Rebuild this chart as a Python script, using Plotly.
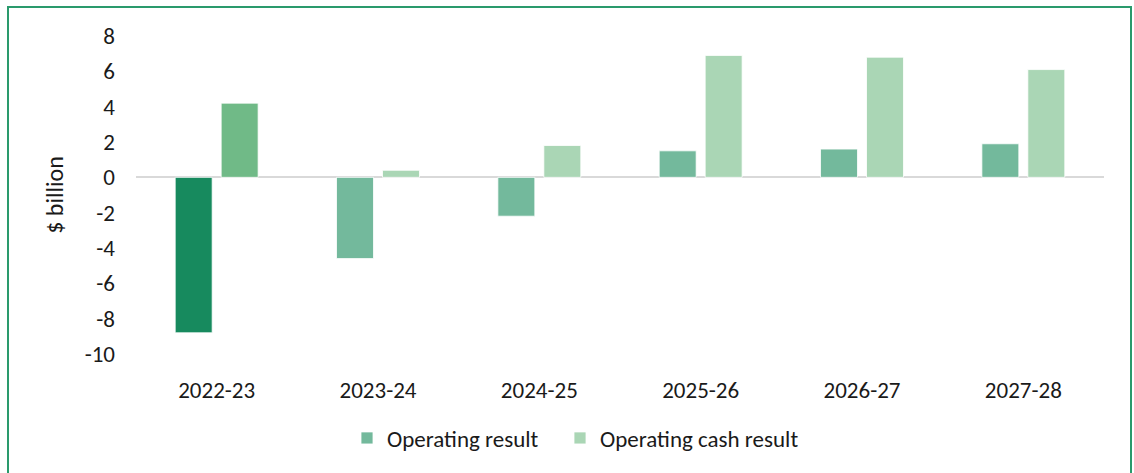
import plotly.graph_objects as go

years = ["2022-23", "2023-24", "2024-25", "2025-26", "2026-27", "2027-28"]
operating_result = [-8.8, -4.6, -2.2, 1.5, 1.6, 1.9]
operating_cash_result = [4.2, 0.4, 1.8, 6.9, 6.8, 6.1]
y_ticks = [-10, -8, -6, -4, -2, 0, 2, 4, 6, 8]
y_tick_labels = ["-10", "-8", "-6", "-4", "-2", "0", "2", "4", "6", "8"]

op_actual_color = "#178A5E"
op_forecast_color = "#73B99C"
cash_actual_color = "#70BA87"
cash_forecast_color = "#AAD6B5"

FONT = "Calibri, Carlito, Lato, sans-serif"

W, H = 1134, 473
ml, mr, mt, mb = 136, 30, 36, 119
pw, ph = W - ml - mr, H - mt - mb

fig = go.Figure()
line = dict(color="rgba(255,255,255,0.8)", width=1)
fig.add_bar(x=years[:1], y=operating_result[:1], name="Operating result",
            marker=dict(color=op_actual_color, line=line), offsetgroup="a", showlegend=False)
fig.add_bar(x=years[1:], y=operating_result[1:], name="Operating result",
            marker=dict(color=op_forecast_color, line=line), offsetgroup="a", legend="legend")
fig.add_bar(x=years[:1], y=operating_cash_result[:1], name="Operating cash result",
            marker=dict(color=cash_actual_color, line=line), offsetgroup="b", showlegend=False)
fig.add_bar(x=years[1:], y=operating_cash_result[1:], name="Operating cash result",
            marker=dict(color=cash_forecast_color, line=line), offsetgroup="b", legend="legend2")

def px_x(p):
    return (p - ml) / pw

def px_y(p):
    return (H - mb - p) / ph

leg_common = dict(orientation="h", y=px_y(438), xanchor="left", yanchor="middle",
                  font=dict(size=23), itemwidth=30, bgcolor="rgba(0,0,0,0)")

fig.update_layout(
    width=W, height=H,
    margin=dict(l=ml, r=mr, t=mt, b=mb, autoexpand=False),
    paper_bgcolor="white", plot_bgcolor="white",
    barmode="group", bargap=0.43, bargroupgap=0.196,
    font=dict(family=FONT, size=23, color="#1a1a1a"),
    showlegend=True,
    legend=dict(x=px_x(361 - 14), **leg_common),
    legend2=dict(x=px_x(574 - 14), **leg_common),
    xaxis=dict(categoryorder="array", categoryarray=years, showgrid=False, showline=False,
               ticks="", ticklabelstandoff=20, tickfont=dict(size=23), automargin=False),
    yaxis=dict(range=[-10, 8], tickvals=y_ticks, ticktext=y_tick_labels, showgrid=False, showline=False,
               zeroline=True, zerolinecolor="#D9D9D9", zerolinewidth=2,
               ticks="", ticklabelstandoff=20, tickfont=dict(size=23), automargin=False,
               title=dict(text="$ billion", font=dict(size=24), standoff=14)),
    shapes=[dict(type="rect", xref="paper", yref="paper",
                 x0=px_x(8), x1=px_x(1131), y0=px_y(490), y1=px_y(7),
                 line=dict(color="#2A9A6C", width=2), fillcolor="rgba(0,0,0,0)", layer="below")],
)

fig.write_html("out.html", config={"displayModeBar": False},
               post_script="document.body.style.margin='0';document.body.style.overflow='hidden';")
